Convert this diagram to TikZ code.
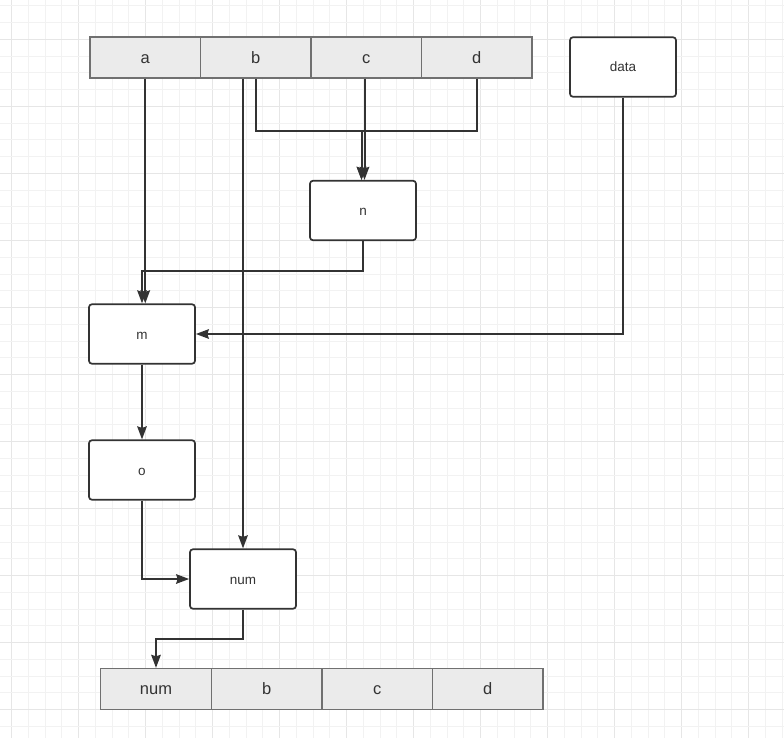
\documentclass[tikz,border=0pt]{standalone}
\usepackage{fontspec}
\setmainfont{Liberation Sans}
\usetikzlibrary{arrows.meta,calc}
\definecolor{ln}{HTML}{333333}
\definecolor{cellfill}{HTML}{EBEBEB}
\definecolor{cellborder}{HTML}{707070}
\definecolor{gminor}{HTML}{F2F2F2}
\definecolor{gmajor}{HTML}{E6E6E6}
\tikzset{
  cell/.style={draw=cellborder, fill=cellfill, line width=1.3pt, minimum width=110.5pt, minimum height=41pt, inner sep=0pt, text=ln, text height=15pt, text depth=3.5pt, font=\fontsize{16.5}{18}\selectfont},
  rbox/.style={draw=ln, fill=white, line width=1.7pt, rounded corners=3pt, minimum width=106pt, minimum height=59.5pt, inner sep=0pt, text=ln, text height=12.5pt, text depth=2.5pt, font=\fontsize{13.5}{15}\selectfont},
  arr/.style={draw=ln, line width=2pt, -{Stealth[length=13pt,width=9.5pt,inset=1.5pt]}},
}
\begin{document}
\begin{tikzpicture}[x=1pt,y=-1pt]
\useasboundingbox (0,0) rectangle (784,738);
\fill[white] (0,0) rectangle (784,738);
% grid
\foreach \k in {0,...,46}{
  \pgfmathsetmacro{\xx}{11.5+16.75*\k}
  \pgfmathtruncatemacro{\mm}{mod(\k,4)}
  \ifnum\mm=0 \draw[gmajor, line width=1.5pt] (\xx,0) -- (\xx,738);
  \else \draw[gminor, line width=1pt] (\xx,0) -- (\xx,738); \fi
}
\foreach \k in {-2,...,41}{
  \pgfmathsetmacro{\yy}{39.5+16.75*\k}
  \pgfmathtruncatemacro{\mm}{mod(\k+8,4)}
  \ifnum\mm=0 \draw[gmajor, line width=1.5pt] (0,\yy) -- (784,\yy);
  \else \draw[gminor, line width=1pt] (0,\yy) -- (784,\yy); \fi
}
% top row
\node[cell] (a) at (145.25,57.5) {a};
\node[cell] (b) at (255.75,57.5) {b};
\node[cell] (c) at (366.25,57.5) {c};
\node[cell] (d) at (476.75,57.5) {d};
% boxes
\node[rbox] (data) at (623,67) {data};
\node[rbox] (n) at (363,210.5) {n};
\node[rbox] (m) at (142,334) {m};
\node[rbox] (o) at (142,470) {o};
\node[rbox] (num) at (243,579) {num};
% bottom row
\node[cell] (bnum) at (156,689) {num};
\node[cell] (bb) at (266.6,689) {b};
\node[cell] (bc) at (377.2,689) {c};
\node[cell] (bd) at (487.8,689) {d};
% helper coordinates
\coordinate (jn) at (0,131);
\coordinate (nL) at ($(n.north)+(-1.5,0)$);
\coordinate (nR) at ($(n.north)+(1.5,0)$);
% connectors
\draw[arr] (a.south) -- (a.south |- m.north);
\draw[arr] (num.north |- b.south) -- (num.north);
\draw[arr] (b.south) -- (b.south |- jn) -| (nL);
\draw[arr] (d.south) -- (d.south |- jn) -| (nL);
\draw[arr] (nR |- c.south) -- (nR);
\draw[arr] (n.south) -- ++(0,30) -| (m.north);
\draw[arr] (data.south) |- (m.east);
\draw[arr] (m.south) -- (o.north);
\draw[arr] (o.south) |- (num.west);
\draw[arr] (num.south) -- ++(0,29) -| (bnum.north);
\end{tikzpicture}
\end{document}
